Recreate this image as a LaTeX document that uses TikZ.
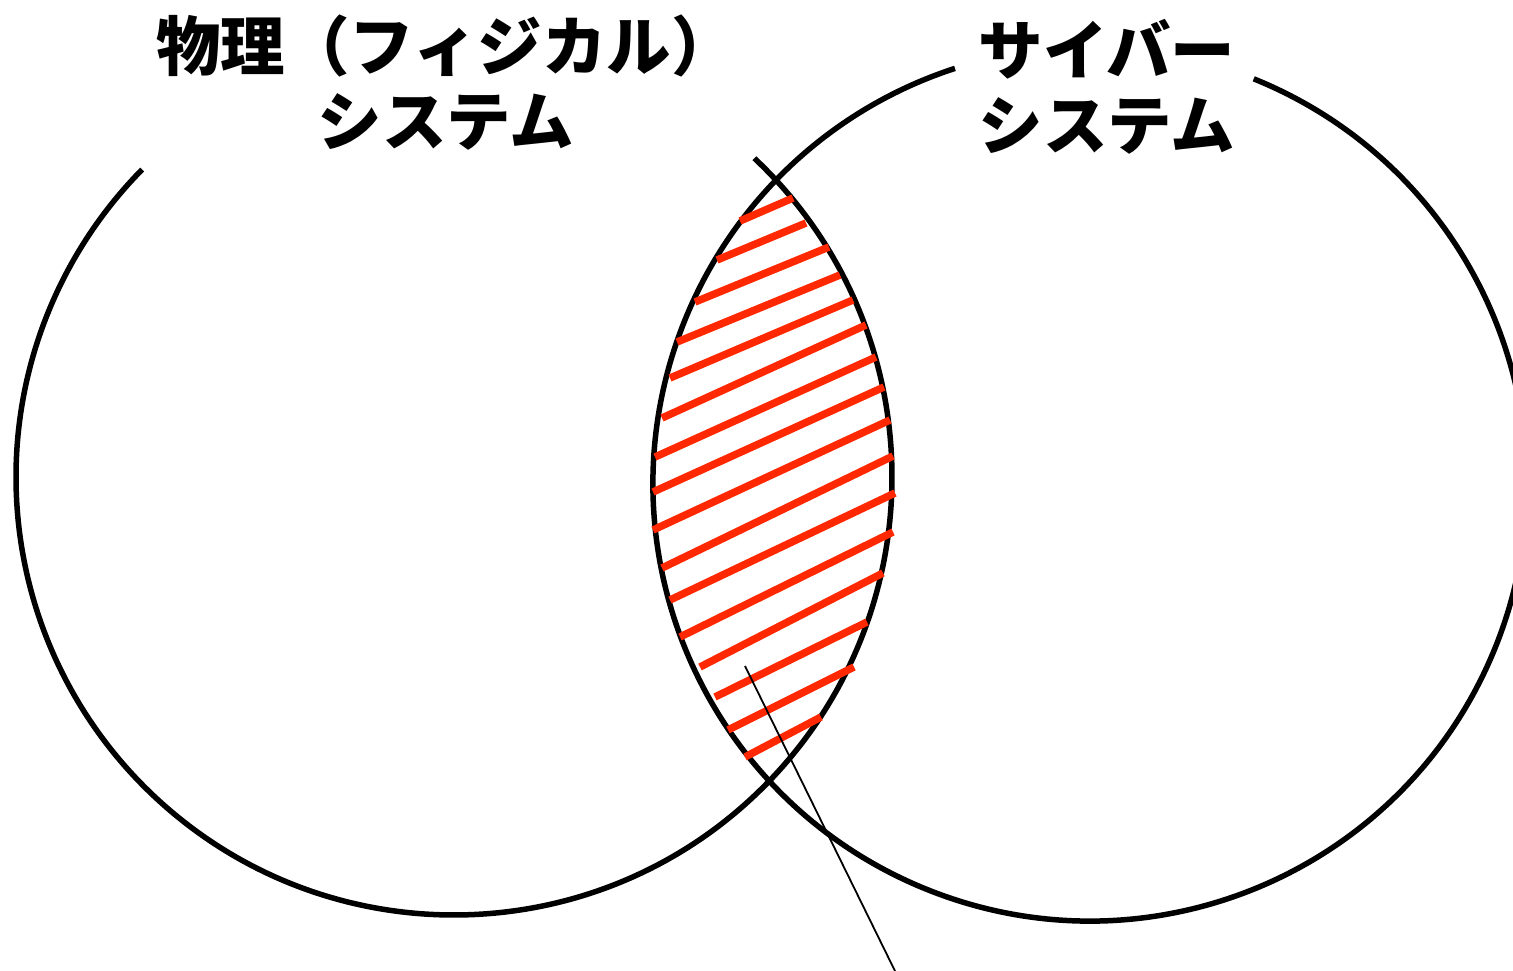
\documentclass[tikz,border=0pt]{standalone}
\usepackage{fontspec}
\newfontfamily\jpfont{Noto Sans CJK JP}
\usetikzlibrary{calc}
\definecolor{hatchred}{RGB}{255,40,0}

\begin{document}
\begin{tikzpicture}[x=1pt, y=-1pt,
    ring/.style={line width=5.5pt, black},
    hatch/.style={line width=7.5pt, hatchred},
    sysname/.style={font=\jpfont\bfseries\fontsize{64.5}{75}\selectfont, align=center, inner sep=0pt}]
  \useasboundingbox (0,0) rectangle (1513,971);
  \coordinate (P) at (454,477);
  \coordinate (C) at (1090,484);

  \draw[ring] ($(P)+(-46.7:438)$) arc[start angle=-46.7, end angle=224.6, radius=438];
  \draw[ring] ($(C)+(-68:437)$) arc[start angle=-68, end angle=252, radius=437];

  \foreach \xa/\ya/\xb/\yb in {740/221/793/198, 717/260/806/223, 695/302/829/247,
      677/342/840/275, 670/378/853/300, 662/418/866/325, 655/457/876/357,
      653/492/884/387, 653/530/890/420, 662/568/893/456, 670/600/895/493,
      680/637/893/532, 700/667/883/573, 715/697/867/622, 728/730/854/667,
      745/757/821/717} {
    \draw[hatch] (\xa,\ya) -- (\xb,\yb);
  }

  \coordinate (tip) at (745,666);
  \coordinate (tail) at (895,971);
  \draw[line width=1.8pt] (tip) -- (tail);

  \node[sysname] (phys) at (446,83) {物理（フィジカル）\\システム};
  \node[sysname] (cyber) at (1107,87) {サイバー\\システム};
\end{tikzpicture}
\end{document}
